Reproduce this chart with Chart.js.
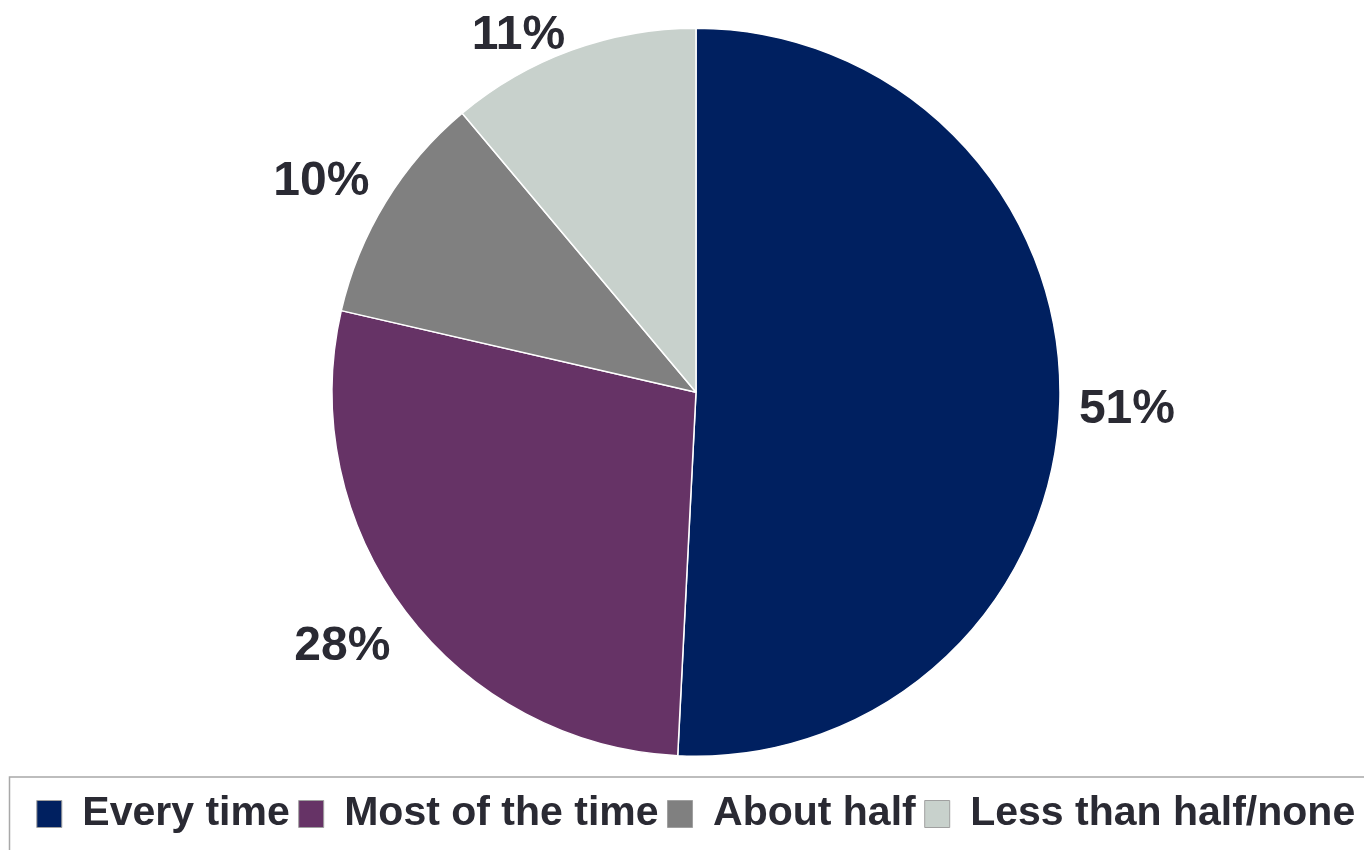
<!DOCTYPE html>
<html>
<head>
<meta charset="utf-8">
<script src="https://cdn.jsdelivr.net/npm/chart.js@4/dist/chart.umd.min.js"></script>
<style>
  html, body { margin: 0; padding: 0; background: #ffffff; overflow: hidden; }
  #wrap { position: absolute; left: 0; top: 0; width: 1392px; height: 850px; }
</style>
</head>
<body>
<div id="wrap"><canvas id="c" width="1392" height="850"></canvas></div>
<script>
const categories = ["Every time", "Most of the time", "About half", "Less than half/none"];
// slice shares (labels show them rounded)
const values = [50.8, 27.8, 10.3, 11.1];
const colors = ["#002060", "#663366", "#808080", "#C8D1CC"];

const TEXT_COLOR = "#2a2a33";
const FONT = "'Liberation Sans', Arial, sans-serif";

const sliceLabels = {
  id: "sliceLabels",
  afterDatasetsDraw(chart) {
    const ctx = chart.ctx;
    const meta = chart.getDatasetMeta(0);
    const data = chart.data.datasets[0].data;
    const clamp = (t) => Math.max(-1, Math.min(1, t));
    ctx.save();
    ctx.font = "bold 48px " + FONT;
    ctx.fillStyle = TEXT_COLOR;
    ctx.textAlign = "center";
    ctx.textBaseline = "middle";
    meta.data.forEach((arc, i) => {
      const text = Math.round(data[i]) + "%";
      const p = arc.getProps(["x", "y", "startAngle", "endAngle", "outerRadius"], true);
      const mid = (p.startAngle + p.endAngle) / 2;
      const cx = Math.cos(mid), cy = Math.sin(mid);
      const w = ctx.measureText(text).width;
      const h = 34;
      const d = p.outerRadius + 19;
      // anchor point on the ray; the label box touches it with its nearest corner/edge
      const ax = p.x + cx * d;
      const ay = p.y + cy * d;
      let lx = ax + clamp(cx * 3) * w / 2;
      let ly = ay + clamp(cy * 3) * h / 2;
      const minY = 12 + h / 2;
      if (ly < minY) ly = minY;
      ctx.fillText(text, lx, ly + 7);
    });
    ctx.restore();
  }
};

const legendFrame = {
  id: "legendFrame",
  afterDraw(chart) {
    const ctx = chart.ctx;
    ctx.save();
    ctx.strokeStyle = "#a8a8a8";
    ctx.lineWidth = 1.5;
    ctx.strokeRect(9.5, 777, 1500, 200);
    ctx.restore();
  }
};

new Chart(document.getElementById("c"), {
  type: "pie",
  data: {
    labels: categories,
    datasets: [{
      data: values,
      backgroundColor: colors,
      borderColor: "#ffffff",
      borderWidth: 1.5,
      radius: 364
    }]
  },
  options: {
    responsive: false,
    animation: false,
    layout: { padding: { top: 0, bottom: 5.5, left: 0, right: 0 } },
    plugins: {
      tooltip: { enabled: false },
      legend: {
        display: true,
        position: "bottom",
        labels: {
          boxWidth: 25,
          boxHeight: 27,
          padding: 9,
          color: TEXT_COLOR,
          font: { family: FONT, size: 41, weight: "bold" },
          generateLabels(chart) {
            return chart.data.labels.map((lab, i) => ({
              text: lab,
              fillStyle: colors[i],
              strokeStyle: "#a0a0a0",
              lineWidth: 1,
              fontColor: TEXT_COLOR,
              hidden: false,
              index: i
            }));
          }
        }
      }
    }
  },
  plugins: [sliceLabels, legendFrame]
});
</script>
</body>
</html>
